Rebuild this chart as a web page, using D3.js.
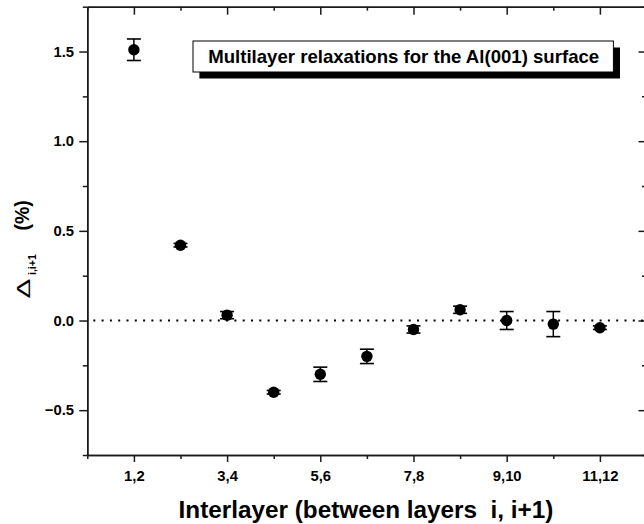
<!DOCTYPE html>
<html>
<head>
<meta charset="utf-8">
<script src="https://cdn.jsdelivr.net/npm/d3@7"></script>
<style>
  body { margin: 0; background: #fff; }
  svg { font-family: "Liberation Sans", Arial, sans-serif; }
</style>
</head>
<body>
<svg id="chart"></svg>
<script>
// Data
const interlayers = ["1,2", "2,3", "3,4", "4,5", "5,6", "6,7", "7,8", "8,9", "9,10", "10,11", "11,12"];
const relaxation = [1.51, 0.42, 0.03, -0.40, -0.30, -0.20, -0.05, 0.06, 0.00, -0.02, -0.04];
const errors = [0.06, 0.01, 0.02, 0.01, 0.04, 0.04, 0.02, 0.02, 0.05, 0.07, 0.01];
const xTickLabels = ["1,2", "3,4", "5,6", "7,8", "9,10", "11,12"];
const yTicks = [-0.5, 0.0, 0.5, 1.0, 1.5];
const yMinor = [-0.75, -0.25, 0.25, 0.75, 1.25, 1.75];
const legendText = "Multilayer relaxations for the Al(001) surface";

const width = 644;
const height = 524;
const plotLeft = 87.3, plotRight = 646.5, plotTop = 6.7, plotBottom = 455;
const font = "'Liberation Sans', Arial, sans-serif";

const svg = d3.select("#chart")
    .attr("width", width)
    .attr("height", height);

// Scales
const xScale = d3.scaleLinear().domain([0, 12]).range([plotLeft, plotRight]);
const yScale = d3.scaleLinear().domain([-0.75, 1.75]).range([plotBottom, plotTop]);

const majorX = xTickLabels.map((d, i) => 2 * i + 1);
const minorX = d3.range(0, 13, 2);

function styleAxis(g) {
    g.attr("font-family", font);
    g.selectAll("path, line").attr("stroke", "#1a1a1a").attr("stroke-width", 1.5);
    g.selectAll("text")
        .attr("fill", "#000")
        .attr("font-size", 14.8)
        .attr("font-weight", "bold");
}

// Ejes: minor ticks first
svg.append("g")
    .attr("transform", `translate(0, ${plotBottom})`)
    .call(d3.axisBottom(xScale).tickValues(minorX).tickSize(4).tickFormat("").tickSizeOuter(0))
    .call(styleAxis);
svg.append("g")
    .attr("transform", `translate(0, ${plotBottom})`)
    .call(d3.axisBottom(xScale).tickValues(majorX).tickSize(7).tickSizeOuter(0)
        .tickFormat((d, i) => xTickLabels[i]))
    .call(styleAxis)
    .call(g => g.selectAll("text").attr("y", 25.5).attr("dy", 0));

svg.append("g")
    .attr("transform", `translate(0, ${plotTop})`)
    .call(d3.axisTop(xScale).tickValues(minorX).tickSize(-4).tickFormat("").tickSizeOuter(0))
    .call(styleAxis);
svg.append("g")
    .attr("transform", `translate(0, ${plotTop})`)
    .call(d3.axisTop(xScale).tickValues(majorX).tickSize(-8).tickFormat("").tickSizeOuter(0))
    .call(styleAxis);

svg.append("g")
    .attr("transform", `translate(${plotLeft}, 0)`)
    .call(d3.axisLeft(yScale).tickValues(yMinor).tickSize(4.5).tickFormat("").tickSizeOuter(0))
    .call(styleAxis);
svg.append("g")
    .attr("transform", `translate(${plotLeft}, 0)`)
    .call(d3.axisLeft(yScale).tickValues(yTicks).tickSize(8).tickPadding(5.3)
        .tickFormat(d3.format(".1f")).tickSizeOuter(0))
    .call(styleAxis);

svg.append("g")
    .attr("transform", `translate(${plotRight}, 0)`)
    .call(d3.axisRight(yScale).tickValues(yMinor).tickSize(-4.5).tickFormat("").tickSizeOuter(0))
    .call(styleAxis);
svg.append("g")
    .attr("transform", `translate(${plotRight}, 0)`)
    .call(d3.axisRight(yScale).tickValues(yTicks).tickSize(-8).tickFormat("").tickSizeOuter(0))
    .call(styleAxis);

// Linea de cero
svg.append("line")
    .attr("x1", plotLeft + 6)
    .attr("x2", plotRight)
    .attr("y1", yScale(0))
    .attr("y2", yScale(0))
    .attr("stroke", "#000")
    .attr("stroke-width", 2)
    .attr("stroke-dasharray", "2,6.3");

// Barras de error
const points = svg.append("g")
    .selectAll("g")
    .data(interlayers)
    .enter()
    .append("g");

points.append("line")
    .attr("x1", (d, i) => xScale(i + 1))
    .attr("x2", (d, i) => xScale(i + 1))
    .attr("y1", (d, i) => yScale(relaxation[i] + errors[i]))
    .attr("y2", (d, i) => yScale(relaxation[i] - errors[i]))
    .attr("stroke", "#000")
    .attr("stroke-width", 1.5);

[1, -1].forEach(s => {
    points.append("line")
        .attr("x1", (d, i) => xScale(i + 1) - 7)
        .attr("x2", (d, i) => xScale(i + 1) + 7)
        .attr("y1", (d, i) => yScale(relaxation[i] + s * errors[i]))
        .attr("y2", (d, i) => yScale(relaxation[i] + s * errors[i]))
        .attr("stroke", "#000")
        .attr("stroke-width", 1.6);
});

points.append("circle")
    .attr("cx", (d, i) => xScale(i + 1))
    .attr("cy", (d, i) => yScale(relaxation[i]))
    .attr("r", 5.7)
    .attr("fill", "#000");

// Leyenda
svg.append("rect")
    .attr("x", 199.4).attr("y", 47.5)
    .attr("width", 420.6).attr("height", 31)
    .attr("fill", "#000");
svg.append("rect")
    .attr("x", 193).attr("y", 41)
    .attr("width", 420.4).attr("height", 31)
    .attr("fill", "#fff")
    .attr("stroke", "#000")
    .attr("stroke-width", 1);
svg.append("text")
    .attr("x", 403.7)
    .attr("y", 62.5)
    .attr("text-anchor", "middle")
    .attr("font-size", 18.6)
    .attr("font-weight", "bold")
    .text(legendText);

// Titulos de ejes
svg.append("text")
    .attr("x", 366)
    .attr("y", 517.5)
    .attr("text-anchor", "middle")
    .attr("font-size", 24.3)
    .attr("font-weight", "bold")
    .style("white-space", "pre")
    .text("Interlayer (between layers  i, i+1)");

svg.append("text")
    .attr("transform", "translate(30, 298.5) rotate(-90) scale(1.6, 1)")
    .attr("font-size", 18.6)
    .text("Δ");
svg.append("text")
    .attr("transform", "translate(36, 275) rotate(-90)")
    .attr("font-size", 10.5)
    .attr("font-weight", "bold")
    .text("i,i+1");
svg.append("text")
    .attr("transform", "translate(28.5, 230.5) rotate(-90)")
    .attr("font-size", 19.5)
    .attr("font-weight", "bold")
    .text("(%)");
</script>
</body>
</html>
